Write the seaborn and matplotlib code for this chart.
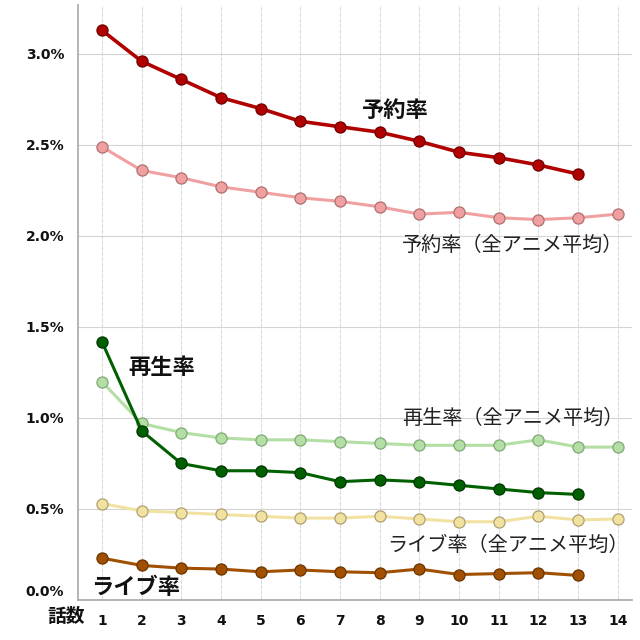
import matplotlib
matplotlib.use("Agg")
import matplotlib.pyplot as plt
import matplotlib.transforms as mtrans
import seaborn as sns
import numpy as np

sns.set_theme(style="white")
plt.rcParams['font.family'] = ['Noto Sans CJK JP', 'DejaVu Sans']

episodes13 = list(range(1, 14))
episodes14 = list(range(1, 15))

yoyaku = [3.13, 2.96, 2.86, 2.76, 2.70, 2.63, 2.60, 2.57, 2.52, 2.46, 2.43, 2.39, 2.34]
yoyaku_avg = [2.49, 2.36, 2.32, 2.27, 2.24, 2.21, 2.19, 2.16, 2.12, 2.13, 2.10, 2.09, 2.10, 2.12]
saisei = [1.42, 0.93, 0.75, 0.71, 0.71, 0.70, 0.65, 0.66, 0.65, 0.63, 0.61, 0.59, 0.58]
saisei_avg = [1.20, 0.97, 0.92, 0.89, 0.88, 0.88, 0.87, 0.86, 0.85, 0.85, 0.85, 0.88, 0.84, 0.84]
live_avg = [0.53, 0.49, 0.48, 0.47, 0.46, 0.45, 0.45, 0.46, 0.445, 0.43, 0.43, 0.46, 0.44, 0.445]
live = [0.23, 0.19, 0.175, 0.17, 0.155, 0.165, 0.155, 0.15, 0.17, 0.14, 0.145, 0.15, 0.135]

yticks = [0.0, 0.5, 1.0, 1.5, 2.0, 2.5, 3.0]
ytick_labels = ["0.0%", "0.5%", "1.0%", "1.5%", "2.0%", "2.5%", "3.0%"]

fig = plt.figure(figsize=(6.4, 6.4), dpi=100)
ax = fig.add_axes([0.122, 0.0625, 0.865, 0.93])

series = [
    (episodes14, yoyaku_avg, "#f0a0a0", "#b07070", 2.2),
    (episodes13, yoyaku, "#b00000", "#700000", 2.6),
    (episodes14, saisei_avg, "#b4dfa4", "#80a878", 2.2),
    (episodes13, saisei, "#006000", "#003800", 2.2),
    (episodes14, live_avg, "#f2e2a2", "#b0a070", 2.2),
    (episodes13, live, "#a05000", "#6a3500", 2.2),
]
for xs, ys, c, ec, lw in series:
    sns.lineplot(x=xs, y=ys, ax=ax, color=c, linewidth=lw, marker='o',
                 markersize=8, markeredgecolor=ec, markeredgewidth=0.9,
                 markerfacecolor=c, zorder=3)

ax.set_xlim(0.4, 14.35)
ax.set_ylim(0, 3.27)
ax.set_xticks(episodes14)
ax.set_xticklabels([str(e) for e in episodes14], fontsize=10, fontweight='bold',
                   family='DejaVu Sans')
ax.set_yticks(yticks)
ax.set_yticklabels(ytick_labels, fontsize=10, fontweight='bold', family='DejaVu Sans')
ax.tick_params(axis='both', length=0, pad=10, colors='#111111')
# lift the 0.0% label a little, as in the reference
lbl0 = ax.get_yticklabels()[0]
lbl0.set_transform(lbl0.get_transform() + mtrans.ScaledTranslation(0, 10/100, fig.dpi_scale_trans))
ax.grid(True, axis='y', color='#d4d4d4', linewidth=0.8)
ax.grid(True, axis='x', color='#dcdcdc', linewidth=0.8, linestyle=(0, (4, 1)))
ax.set_axisbelow(True)
for s in ['top', 'right']:
    ax.spines[s].set_visible(False)
for s in ['left', 'bottom']:
    ax.spines[s].set_color('#a8a8a8')
    ax.spines[s].set_linewidth(1.2)

ax.text(8.4, 2.69, "予約率", fontsize=16, fontweight='bold', ha='center', va='center', color='#111111')
ax.text(11.35, 1.95, "予約率（全アニメ平均）", fontsize=14.5, ha='center', va='center', color='#222222')
ax.text(2.52, 1.28, "再生率", fontsize=16, fontweight='bold', ha='center', va='center', color='#111111')
ax.text(11.35, 1.00, "再生率（全アニメ平均）", fontsize=14.5, ha='center', va='center', color='#222222')
ax.text(11.23, 0.30, "ライブ率（全アニメ平均）", fontsize=14.5, ha='center', va='center', color='#222222')
ax.text(1.86, 0.07, "ライブ率", fontsize=16, fontweight='bold', ha='center', va='center', color='#111111')
fig.text(66/640, 1 - 617/640, "話数", fontsize=13.5, fontweight='bold', ha='center', va='center', color='#111111')

fig.savefig("out.png", dpi=100)
